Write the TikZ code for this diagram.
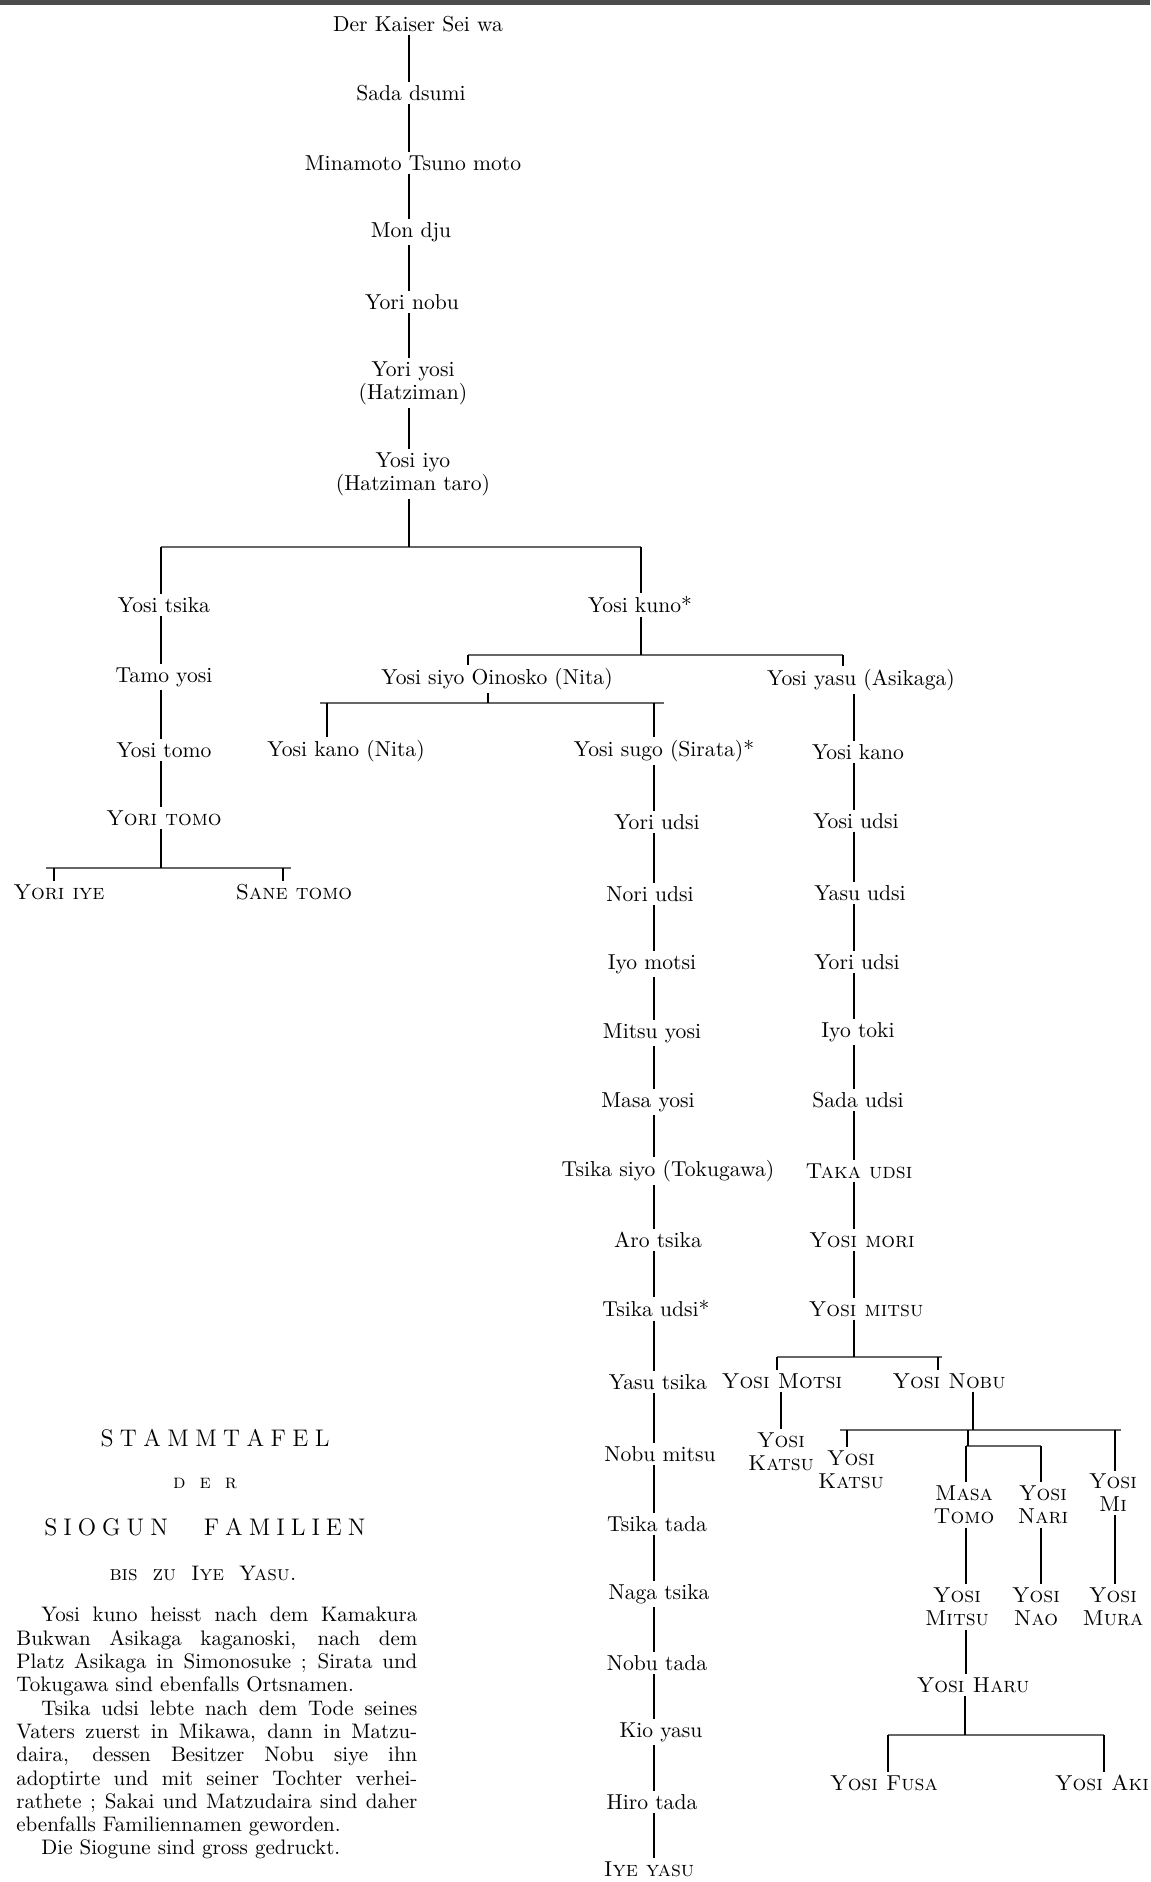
\documentclass[tikz,border=0pt]{standalone}
\usepackage{tikz}

\begin{document}
\begin{tikzpicture}[x=0.5pt,y=-0.5pt,inner sep=1pt,
  nm/.style={font=\fontsize{10.8}{11.6}\selectfont,align=center,inner sep=1.5pt},
  sg/.style={font=\fontsize{10.8}{11.6}\selectfont\scshape,align=center,inner sep=1.5pt},
  ln/.style={line width=0.8pt},
  bar/.style={line width=1.1pt,black!60}]
\useasboundingbox (0,0) rectangle (1150,1882);
\fill[black!70] (0,0) rectangle (1150,5);
\coordinate (colM) at (409,0);
\coordinate (colT) at (161,0);
\coordinate (colK) at (641,0);
\coordinate (colL) at (654,0);
\coordinate (colR) at (854,0);
\node (kaiser) at (418,24) [nm] {Der Kaiser Sei wa};
\node (sada) at (411,93) [nm] {Sada dsumi};
\node (minamoto) at (413,163) [nm] {Minamoto Tsuno moto};
\node (mondju) at (411,232) [nm] {Mon dju};
\node (yorinobu) at (412,302) [nm] {Yori nobu};
\node (yoriyosi) at (413,383) [nm] {Yori yosi\\(Hatziman)};
\node (yosiiyo) at (413,474) [nm] {Yosi iyo\\(Hatziman taro)};
\node (yositsika) at (164,605) [nm] {Yosi tsika};
\node (tamoyosi) at (164,677) [nm] {Tamo yosi};
\node (yositomo) at (164,750) [nm] {Yosi tomo};
\node (yoritomo) at (164,818) [sg] {Yori tomo};
\node (yoriiye) at (59,892) [sg] {Yori iye};
\node (sanetomo) at (294,892) [sg] {Sane tomo};
\node (yosikuno) at (640,605) [nm] {Yosi kuno*};
\node (yosisiyo) at (497,679) [nm] {Yosi siyo Oinosko (Nita)};
\node (yosiyasu) at (861,680) [nm] {Yosi yasu (Asikaga)};
\node (kanonita) at (346,751) [nm] {Yosi kano (Nita)};
\node (yosisugo) at (664,751) [nm] {Yosi sugo (Sirata)*};
\node (yoriudsi) at (657,822) [nm] {Yori udsi};
\node (noriudsi) at (650,894) [nm] {Nori udsi};
\node (iyomotsi) at (652,964) [nm] {Iyo motsi};
\node (mitsuyosi) at (652,1033) [nm] {Mitsu yosi};
\node (masayosi) at (648,1102) [nm] {Masa yosi};
\node (tsikasiyo) at (668,1171) [nm] {Tsika siyo (Tokugawa)};
\node (arotsika) at (658,1240) [nm] {Aro tsika};
\node (tsikaudsi) at (656,1309) [nm] {Tsika udsi*};
\node (yasutsika) at (658,1382) [nm] {Yasu tsika};
\node (nobumitsu) at (660,1454) [nm] {Nobu mitsu};
\node (tsikatada) at (657,1524) [nm] {Tsika tada};
\node (nagatsika) at (659,1594) [nm] {Naga tsika};
\node (nobutada) at (657,1663) [nm] {Nobu tada};
\node (kioyasu) at (661,1732) [nm] {Kio yasu};
\node (hirotada) at (652,1802) [nm] {Hiro tada};
\node (iyeyasu) at (649,1869) [sg] {Iye yasu};
\node (yosikano) at (858,752) [nm] {Yosi kano};
\node (yosiudsi) at (856,821) [nm] {Yosi udsi};
\node (yasuudsi) at (860,893) [nm] {Yasu udsi};
\node (yoriudsiB) at (857,962) [nm] {Yori udsi};
\node (iyotoki) at (858,1032) [nm] {Iyo toki};
\node (sadaudsi) at (858,1100) [nm] {Sada udsi};
\node (takaudsi) at (859,1171) [sg] {Taka udsi};
\node (yosimori) at (862,1240) [sg] {Yosi mori};
\node (yosimitsu) at (866,1309) [sg] {Yosi mitsu};
\node (motsi) at (782,1381) [sg] {Yosi Motsi};
\node (nobu) at (949,1381) [sg] {Yosi Nobu};
\node (katsuA) at (781,1452) [sg] {Yosi\\Katsu};
\node (katsuB) at (851,1470) [sg] {Yosi\\Katsu};
\node (masatomo) at (964,1505) [sg] {Masa\\Tomo};
\node (nari) at (1043,1505) [sg] {Yosi\\Nari};
\node (mi) at (1113,1493) [sg] {Yosi\\Mi};
\node (mitsuB) at (957,1607) [sg] {Yosi\\Mitsu};
\node (nao) at (1036,1607) [sg] {Yosi\\Nao};
\node (mura) at (1113,1607) [sg] {Yosi\\Mura};
\node (haru) at (973,1685) [sg] {Yosi Haru};
\node (fusa) at (884,1783) [sg] {Yosi Fusa};
\node (aki) at (1102,1783) [sg] {Yosi Aki};
\foreach \a/\b in {kaiser/sada,sada/minamoto,minamoto/mondju,mondju/yorinobu,yorinobu/yoriyosi,yoriyosi/yosiiyo}
  \draw[ln] (\a.south -| colM) -- (\b.north -| colM);
\foreach \a/\b in {yositsika/tamoyosi,tamoyosi/yositomo,yositomo/yoritomo}
  \draw[ln] (\a.south -| colT) -- (\b.north -| colT);
\foreach \a/\b in {yosisugo/yoriudsi,yoriudsi/noriudsi,noriudsi/iyomotsi,iyomotsi/mitsuyosi,mitsuyosi/masayosi,masayosi/tsikasiyo,tsikasiyo/arotsika,arotsika/tsikaudsi,tsikaudsi/yasutsika,yasutsika/nobumitsu,nobumitsu/tsikatada,tsikatada/nagatsika,nagatsika/nobutada,nobutada/kioyasu,kioyasu/hirotada,hirotada/iyeyasu}
  \draw[ln] (\a.south -| colL) -- (\b.north -| colL);
\foreach \a/\b in {yosiyasu/yosikano,yosikano/yosiudsi,yosiudsi/yasuudsi,yasuudsi/yoriudsiB,yoriudsiB/iyotoki,iyotoki/sadaudsi,sadaudsi/takaudsi,takaudsi/yosimori,yosimori/yosimitsu}
  \draw[ln] (\a.south -| colR) -- (\b.north -| colR);
\coordinate (b1) at (409,547);
\draw[bar] (b1 -| colT) -- (b1 -| colK);
\draw[ln] (yosiiyo.south -| colM) -- (b1);
\draw[ln] (b1 -| colT) -- (yositsika.north -| colT);
\draw[ln] (b1 -| colK) -- (yosikuno.north -| colK);
\coordinate (b2) at (161,868);
\coordinate (b2l) at (54,868);
\coordinate (b2r) at (283,868);
\draw[bar] ([xshift=-4pt]b2l) -- ([xshift=4pt]b2r);
\draw[ln] (yoritomo.south -| colT) -- (b2);
\draw[ln] (b2l) -- (yoriiye.north -| b2l);
\draw[ln] (b2r) -- (sanetomo.north -| b2r);
\coordinate (b3) at (641,655);
\coordinate (b3l) at (468,655);
\coordinate (b3r) at (843,655);
\draw[bar] (b3l) -- (b3r);
\draw[ln] (yosikuno.south -| colK) -- (b3);
\draw[ln] (b3l) -- (yosisiyo.north -| b3l);
\draw[ln] (b3r) -- (yosiyasu.north -| b3r);
\coordinate (b4) at (488,703);
\coordinate (b4l) at (327,703);
\coordinate (b4r) at (654,703);
\draw[bar] ([xshift=-3.5pt]b4l) -- ([xshift=5pt]b4r);
\draw[ln] (yosisiyo.south -| b4) -- (b4);
\draw[ln] (b4l) -- (kanonita.north -| b4l);
\draw[ln] (b4r) -- (yosisugo.north -| colL);
\coordinate (b5) at (854,1357);
\coordinate (b5l) at (777,1357);
\coordinate (b5r) at (938,1357);
\draw[bar] (b5l) -- ([xshift=2pt]b5r);
\draw[ln] (yosimitsu.south -| colR) -- (b5);
\draw[ln] (b5l) -- (motsi.north -| b5l);
\draw[ln] (b5r) -- (nobu.north -| b5r);
\draw[ln] (motsi.south -| katsuA) -- (katsuA);
\coordinate (b6) at (973,1430);
\coordinate (b6l) at (847,1430);
\coordinate (b6m) at (968,1430);
\coordinate (b6r) at (1115,1430);
\draw[bar] ([xshift=-3.5pt]b6l) -- ([xshift=3pt]b6r);
\draw[ln] (nobu.south -| b6) -- (b6);
\draw[ln] (b6l) -- (katsuB.north -| b6l);
\draw[ln] (b6r) -- (mi.north -| b6r);
\coordinate (b7l) at (966,1446);
\coordinate (b7r) at (1041,1446);
\draw[bar] (b7l) -- (b7r);
\draw[ln] (b6m) -- (b6m |- b7l);
\draw[ln] (b7l) -- (masatomo.north -| b7l);
\draw[ln] (b7r) -- (nari.north -| b7r);
\draw[ln] (masatomo.south -| b7l) -- (mitsuB.north -| b7l);
\draw[ln] (nari.south -| b7r) -- (nao.north -| b7r);
\draw[ln] (mi.south -| b6r) -- (mura.north -| b6r);
\draw[ln] (mitsuB.south -| b7l) -- (haru.north -| b7l);
\coordinate (b8) at (965,1735);
\coordinate (b8l) at (888,1735);
\coordinate (b8r) at (1104,1735);
\draw[bar] (b8l) -- (b8r);
\draw[ln] (haru.south -| b8) -- (b8);
\draw[ln] (b8l) -- (fusa.north -| b8l);
\draw[ln] (b8r) -- (aki.north -| b8r);
\node (title) at (215,1438) [font=\fontsize{12}{14}\selectfont] {{\spaceskip=3.2pt S T A M M T A F E L}};
\node (der) at (205,1483) [font=\fontsize{10}{12}\selectfont\scshape] {{\spaceskip=7pt d e r}};
\node (siogun) at (205,1527) [font=\fontsize{12}{14}\selectfont] {{\spaceskip=3pt S I O G U N\hspace{18pt}F A M I L I E N}};
\node (bis) at (203,1573) [font=\fontsize{10.5}{12}\selectfont\scshape] {{\spaceskip=7.5pt bis zu Iye Yasu.}};
\node (notes) at (16,1607) [anchor=north west,inner sep=0pt,align=left,font=\fontsize{10.5}{11.65}\selectfont] {%
\makebox[200.5pt][s]{\hspace*{12.5pt}Yosi kuno heisst nach dem Kamakura}\\
\makebox[200.5pt][s]{Bukwan Asikaga kaganoski, nach dem}\\
\makebox[200.5pt][s]{Platz Asikaga in Simonosuke ; Sirata und}\\
\makebox[200.5pt][l]{Tokugawa sind ebenfalls Ortsnamen.}\\
\makebox[200.5pt][s]{\hspace*{12.5pt}Tsika udsi lebte nach dem Tode seines}\\
\makebox[200.5pt][s]{Vaters zuerst in Mikawa, dann in Matzu-}\\
\makebox[200.5pt][s]{daira, dessen Besitzer Nobu siye ihn}\\
\makebox[200.5pt][s]{adoptirte und mit seiner Tochter verhei-}\\
\makebox[200.5pt][s]{rathete ; Sakai und Matzudaira sind daher}\\
\makebox[200.5pt][l]{ebenfalls Familiennamen geworden.}\\
\makebox[200.5pt][l]{\hspace*{12.5pt}Die Siogune sind gross gedruckt.}};
\end{tikzpicture}
\end{document}
